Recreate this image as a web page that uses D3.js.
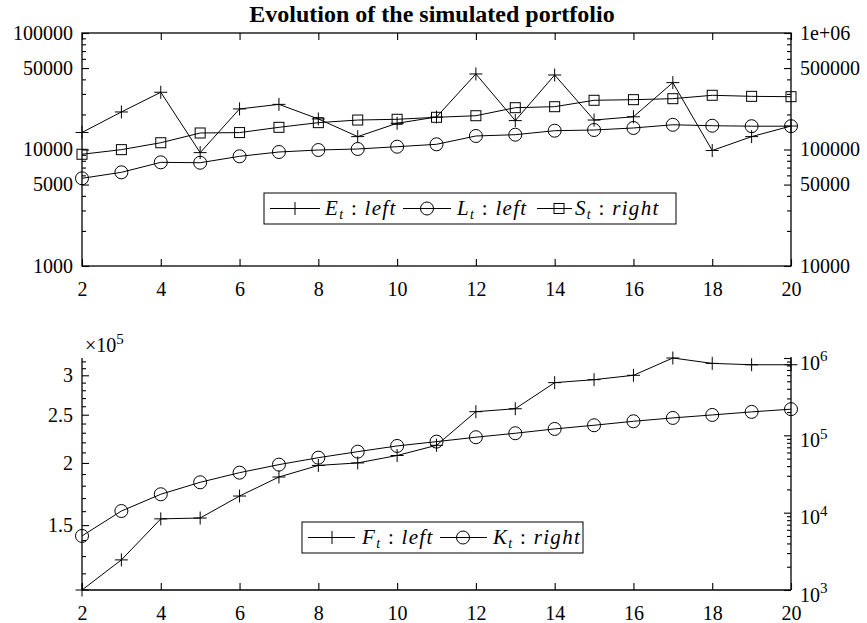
<!DOCTYPE html>
<html>
<head>
<meta charset="utf-8">
<script src="https://cdn.jsdelivr.net/npm/d3@7/dist/d3.min.js"></script>
<style>
  body { margin: 0; background: #fff; }
  svg { display: block; }
</style>
</head>
<body>
<div id="chart"></div>
<script>
// time steps
const periods = [2, 3, 4, 5, 6, 7, 8, 9, 10, 11, 12, 13, 14, 15, 16, 17, 18, 19, 20]
const xTicks  = [2, 4, 6, 8, 10, 12, 14, 16, 18, 20]

// top panel: E_t and L_t on the left axis, S_t on the right axis
const E_t = [14000, 21000, 31000, 9400, 22300, 24400, 18300, 12900, 16800, 19000,
             44500, 17700, 43600, 17900, 19100, 37500, 9800, 12900, 15900]
const L_t = [5660, 6370, 7760, 7700, 8740, 9520, 9900, 10100, 10570, 11080,
             13060, 13400, 14500, 14700, 15300, 16300, 16000, 15850, 15850]
const S_t = [91000, 99700, 114300, 138600, 139700, 155000, 170000, 179000, 181700, 189000,
             195000, 228500, 233000, 264500, 267700, 273000, 292000, 286000, 284000]

// bottom panel: F_t on the left axis, K_t on the right axis
const F_t = [111100, 127700, 154400, 155000, 171600, 187400, 197700, 200000, 207000, 217000,
             253500, 257000, 290000, 294000, 300000, 325000, 317000, 315000, 315000]
const K_t = [5000, 10500, 17300, 24700, 32900, 41800, 51400, 61500, 72900, 82900,
             94500, 106400, 121000, 135000, 152000, 168000, 183500, 201000, 218000]

// tick labels
const topLeftTicks  = [1000, 5000, 10000, 50000, 100000]
const topRightTicks = [10000, 50000, 100000, 500000, 1000000]
const botLeftTicks  = [150000, 200000, 250000, 300000]
const botRightTicks = [1e3, 1e4, 1e5, 1e6]

const FONT = '"Liberation Serif", "Times New Roman", Times, serif'
const PLOT = {left: 82, right: 791}
const TOP  = {top: 33, bottom: 266}
const BOT  = {top: 358, bottom: 590}

const svg = d3.select("#chart")
  .append("svg")
    .attr("width", 867)
    .attr("height", 623)
    .style("font-family", FONT)

const x = d3.scaleLinear().domain([2, 20]).range([PLOT.left, PLOT.right])

const yTL = d3.scaleLog().domain([1e3, 1e5]).range([TOP.bottom, TOP.top])
const yTR = d3.scaleLog().domain([1e4, 1e6]).range([TOP.bottom, TOP.top])
const yBL = d3.scaleLog().domain([d3.min(F_t), d3.max(F_t)]).range([BOT.bottom, BOT.top])
const yBR = d3.scaleLog().domain([1e3, 1e6]).range([BOT.bottom, BOT.top])

// minor log ticks (2..9 of each decade) inside a domain
function logMinors(lo, hi) {
  const out = []
  for (let p = Math.floor(Math.log10(lo)); p <= Math.ceil(Math.log10(hi)); p++) {
    for (let m = 2; m <= 9; m++) {
      const v = m * Math.pow(10, p)
      if (v > lo * 1.0001 && v < hi * 0.9999) out.push(v)
    }
  }
  return out
}

// draws minor + major ticks of one axis, ticks point into the plot
function drawAxis(axisFn, scale, pos, majors, minors, fmt, size) {
  const g = svg.append("g").attr("transform", pos)
  g.append("g")
    .call(axisFn(scale).tickValues(minors).tickSize(-4).tickSizeOuter(0).tickFormat(""))
    .call(s => s.select(".domain").remove())
  const major = g.append("g")
    .call(axisFn(scale).tickValues(majors).tickSize(-7).tickSizeOuter(0).tickPadding(size || 9).tickFormat(fmt))
    .attr("font-family", FONT)
    .attr("font-size", 20)
  major.select(".domain").remove()
  g.selectAll("line").attr("stroke", "#000").attr("stroke-width", 1.1)
  major.selectAll("text").attr("fill", "#000")
  return major
}

/// Top panel
svg.append("text")
  .attr("x", 432)
  .attr("y", 22)
  .attr("text-anchor", "middle")
  .attr("font-weight", "bold")
  .attr("font-size", 24)
  .text("Evolution of the simulated portfolio")

svg.append("rect")
  .attr("x", PLOT.left).attr("y", TOP.top)
  .attr("width", PLOT.right - PLOT.left).attr("height", TOP.bottom - TOP.top)
  .attr("fill", "none").attr("stroke", "#000").attr("stroke-width", 1.3)

drawAxis(d3.axisBottom, x, `translate(0,${TOP.bottom})`, xTicks, [], d => d, 16)
drawAxis(d3.axisTop, x, `translate(0,${TOP.top})`, xTicks, [], "", 9)
drawAxis(d3.axisLeft, yTL, `translate(${PLOT.left},0)`, topLeftTicks,
  logMinors(1e3, 1e5).filter(v => !topLeftTicks.includes(v)), d => d, 9)
drawAxis(d3.axisRight, yTR, `translate(${PLOT.right},0)`, topRightTicks,
  logMinors(1e4, 1e6).filter(v => !topRightTicks.includes(v)), d => d === 1e6 ? "1e+06" : d, 9)

/// Bottom panel
const botAxes = svg.append("g")
botAxes.append("line")
  .attr("x1", PLOT.left).attr("x2", PLOT.right)
  .attr("y1", BOT.bottom).attr("y2", BOT.bottom)
botAxes.append("line")
  .attr("x1", PLOT.left).attr("x2", PLOT.left)
  .attr("y1", BOT.top).attr("y2", BOT.bottom)
botAxes.append("line")
  .attr("x1", PLOT.right).attr("x2", PLOT.right)
  .attr("y1", BOT.top - 1).attr("y2", BOT.bottom)
botAxes.selectAll("line").attr("stroke", "#000").attr("stroke-width", 1.3)

drawAxis(d3.axisBottom, x, `translate(0,${BOT.bottom})`, xTicks, [], d => d, 16)

const botLeftMinors = d3.range(12, 33).map(v => v * 1e4).filter(v => !botLeftTicks.includes(v))
drawAxis(d3.axisLeft, yBL, `translate(${PLOT.left},0)`, botLeftTicks, botLeftMinors, d => d / 1e5, 9)

const brAxis = drawAxis(d3.axisRight, yBR, `translate(${PLOT.right},0)`, botRightTicks,
  logMinors(1e3, 1e6), "", 9)
brAxis.selectAll("text")
  .attr("dy", "0.55em")
  .each(function(d) {
    const t = d3.select(this)
    t.append("tspan").text("10")
    t.append("tspan").attr("dy", "-0.55em").attr("font-size", 15).text(Math.round(Math.log10(d)))
  })

// x10^5 multiplier of the left axis
const mult = svg.append("text").attr("x", 85).attr("y", 352).attr("font-size", 20)
mult.append("tspan").text("×10")
mult.append("tspan").attr("dy", -8).attr("font-size", 15).text("5")

/// Series
const markers = {
  plus:   g => g.append("path").attr("d", "M-6.5,0H6.5M0,-6.5V6.5"),
  circle: g => g.append("circle").attr("r", 6.5),
  square: g => g.append("rect").attr("x", -5).attr("y", -5).attr("width", 10).attr("height", 10)
}

function drawSeries(values, y, marker) {
  const pts = periods.map((p, i) => [x(p), y(values[i])])
  svg.append("path")
    .datum(pts)
    .attr("fill", "none")
    .attr("stroke", "#000")
    .attr("stroke-width", 1)
    .attr("d", d3.line())
  svg.append("g")
    .selectAll("g")
    .data(pts)
    .join("g")
      .attr("transform", d => `translate(${d[0]},${d[1]})`)
      .each(function() { markers[marker](d3.select(this)) })
    .selectAll("*")
      .attr("fill", "none")
      .attr("stroke", "#000")
      .attr("stroke-width", 1)
}

drawSeries(E_t, yTL, "plus")
drawSeries(L_t, yTL, "circle")
drawSeries(S_t, yTR, "square")
drawSeries(F_t, yBL, "plus")
drawSeries(K_t, yBR, "circle")

/// Legends
function legendLabel(g, xPos, yPos, name, side) {
  const t = g.append("text")
    .attr("x", xPos).attr("y", yPos)
    .attr("font-size", 21)
    .attr("letter-spacing", 1.3)
  t.append("tspan").attr("font-style", "italic").text(name)
  t.append("tspan").attr("font-style", "italic").attr("font-size", 14).attr("dy", 4).text("t")
  t.append("tspan").attr("dy", -4).text(" : ")
  t.append("tspan").attr("font-style", "italic").text(side)
}

function drawLegend(box, items) {
  const g = svg.append("g")
  g.append("rect")
    .attr("x", box.x).attr("y", box.y).attr("width", box.w).attr("height", box.h)
    .attr("fill", "#fff").attr("stroke", "#000").attr("stroke-width", 1)
  const cy = box.y + box.h / 2
  items.forEach(it => {
    g.append("line")
      .attr("x1", it.x1).attr("x2", it.x2).attr("y1", cy).attr("y2", cy)
      .attr("stroke", "#000")
    const m = g.append("g").attr("transform", `translate(${it.m},${cy})`)
    markers[it.marker](m)
    m.selectAll("*").attr("fill", "none").attr("stroke", "#000")
    legendLabel(g, it.tx, cy + 6.5, it.name, it.side)
  })
}

drawLegend({x: 264, y: 193, w: 412, h: 31}, [
  {x1: 270, x2: 320, m: 295, tx: 325, name: "E", side: "left", marker: "plus"},
  {x1: 403, x2: 451, m: 427, tx: 457, name: "L", side: "left", marker: "circle"},
  {x1: 537, x2: 572, m: 559, tx: 575, name: "S", side: "right", marker: "square"}
])

drawLegend({x: 302, y: 522, w: 281, h: 31}, [
  {x1: 308, x2: 355, m: 332, tx: 362, name: "F", side: "left", marker: "plus"},
  {x1: 440, x2: 487, m: 463, tx: 493, name: "K", side: "right", marker: "circle"}
])
</script>
</body>
</html>
